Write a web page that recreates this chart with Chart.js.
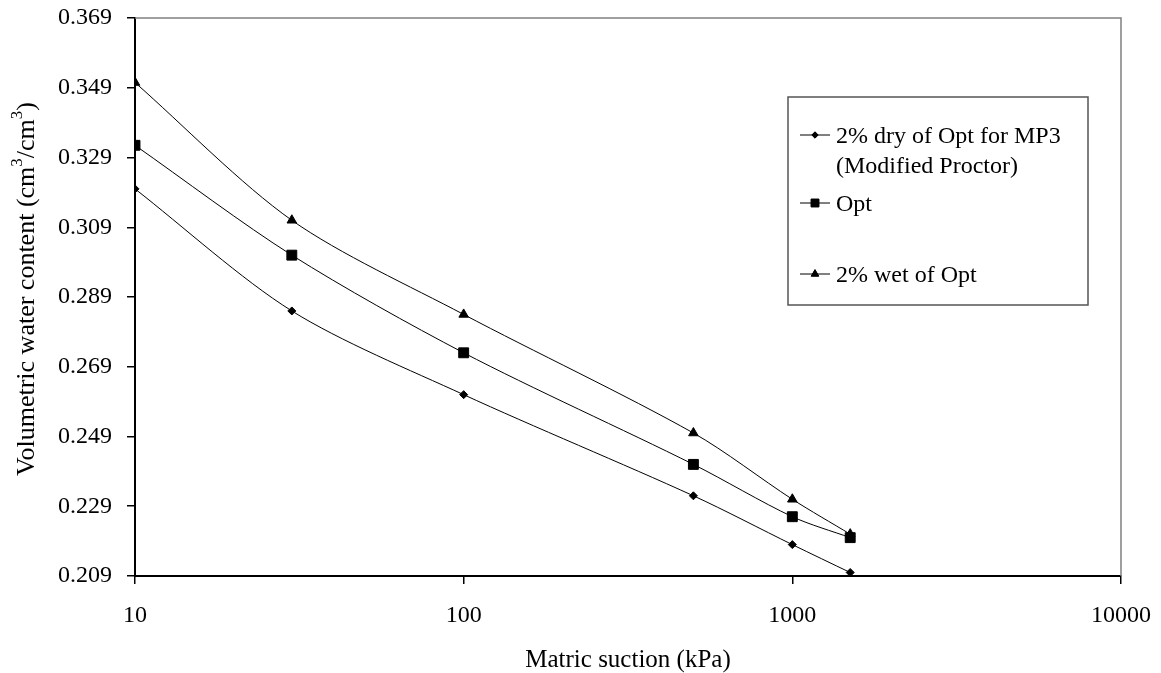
<!DOCTYPE html>
<html>
<head>
<meta charset="utf-8">
<script src="https://cdn.jsdelivr.net/npm/chart.js@4"></script>
<style>
  html, body { margin: 0; padding: 0; background: #fff; }
  #wrap { width: 1161px; height: 673px; }
</style>
</head>
<body>
<div id="wrap"><canvas id="myChart" width="1161" height="673"></canvas></div>
<script>
// chart values
const suction = [10, 30, 100, 500, 1000, 1500];
const dryOpt = [0.320, 0.285, 0.261, 0.232, 0.218, 0.210];
const opt = [0.3325, 0.301, 0.273, 0.241, 0.226, 0.220];
const wetOpt = [0.3505, 0.311, 0.284, 0.250, 0.231, 0.221];
const xTicks = [10, 100, 1000, 10000];
const yTicks = [0.209, 0.229, 0.249, 0.269, 0.289, 0.309, 0.329, 0.349, 0.369];

const serif = "'Liberation Serif', 'Times New Roman', serif";

// pair suction values with a series
toPoints = (vals) => suction.map((s, i) => ({ x: s, y: vals[i] }));

const series = [
    { label: ['2% dry of Opt for MP3', '(Modified Proctor)'], data: dryOpt, style: 'rectRot', radius: 4 },
    { label: ['Opt'], data: opt, style: 'rect', radius: 7 },
    { label: ['2% wet of Opt'], data: wetOpt, style: 'triangle', radius: 5.5 }
];

// plot frame: gray top/right, black left/bottom
const framePlugin = {
    id: 'frame',
    beforeDatasetsDraw(chart) {
        const { ctx, chartArea: a } = chart;
        ctx.save();
        ctx.strokeStyle = '#808080';
        ctx.lineWidth = 1.5;
        ctx.beginPath();
        ctx.moveTo(a.left, a.top);
        ctx.lineTo(a.right, a.top);
        ctx.lineTo(a.right, a.bottom);
        ctx.stroke();
        ctx.restore();
    }
};

// y axis title with real superscripts
const yTitlePlugin = {
    id: 'yTitle',
    afterDraw(chart) {
        const ctx = chart.ctx;
        const big = '26px ' + serif, small = '17px ' + serif;
        const parts = [
            ['Volumetric water content (cm', big, 0],
            ['3', small, -9],
            ['/cm', big, 0],
            ['3', small, -9],
            [')', big, 0]
        ];
        let total = 0;
        parts.forEach(p => { ctx.font = p[1]; total += ctx.measureText(p[0]).width; });
        ctx.save();
        ctx.translate(27, 289);
        ctx.rotate(-Math.PI / 2);
        ctx.fillStyle = '#000';
        ctx.textBaseline = 'middle';
        let x = -total / 2;
        parts.forEach(p => {
            ctx.font = p[1];
            ctx.fillText(p[0], x, p[2]);
            x += ctx.measureText(p[0]).width;
        });
        ctx.restore();
    }
};

// boxed legend on the right
const legendPlugin = {
    id: 'boxLegend',
    afterDraw(chart) {
        const ctx = chart.ctx;
        const box = { x: 788, y: 97, w: 300, h: 208 };
        const rows = [135, 203, 274];
        ctx.save();
        ctx.strokeStyle = '#555';
        ctx.lineWidth = 1.5;
        ctx.strokeRect(box.x, box.y, box.w, box.h);
        ctx.font = '24px ' + serif;
        ctx.fillStyle = '#000';
        ctx.textBaseline = 'middle';
        series.forEach((s, i) => {
            const y = rows[i];
            ctx.strokeStyle = '#000';
            ctx.lineWidth = 1;
            ctx.beginPath();
            ctx.moveTo(800, y);
            ctx.lineTo(830, y);
            ctx.stroke();
            Chart.helpers.drawPoint(ctx, { pointStyle: s.style, radius: s.radius * 0.8, borderWidth: 1 }, 815, y);
            ctx.fill();
            s.label.forEach((t, j) => ctx.fillText(t, 836, y + 2 + j * 30));
        });
        ctx.restore();
    }
};

new Chart(document.getElementById('myChart'), {
    type: 'line',
    data: {
        datasets: series.map(s => ({
            label: s.label.join(' '),
            data: toPoints(s.data),
            borderColor: '#000',
            backgroundColor: '#000',
            borderWidth: 1,
            pointStyle: s.style,
            pointRadius: s.radius,
            pointBorderWidth: 1,
            tension: 0.3,
            fill: false
        }))
    },
    options: {
        responsive: false,
        animation: false,
        layout: { padding: { left: 0, right: 40, top: 18, bottom: 0 } },
        plugins: {
            legend: { display: false },
            tooltip: { enabled: false }
        },
        scales: {
            x: {
                type: 'logarithmic',
                min: 10,
                max: 10000,
                afterBuildTicks: (axis) => { axis.ticks = xTicks.map(v => ({ value: v })); },
                afterFit: (axis) => {
                    axis.height = 97;
                    axis.paddingLeft = 0;
                    axis.paddingRight = 0;
                },
                border: { display: true, color: '#000', width: 2 },
                grid: { display: true, drawOnChartArea: false, drawTicks: true, tickLength: 8, color: '#000', lineWidth: 1.5 },
                ticks: {
                    color: '#000',
                    font: { family: serif, size: 24 },
                    padding: 17,
                    maxRotation: 0,
                    callback: (v) => String(v)
                },
                title: {
                    display: true,
                    text: 'Matric suction (kPa)',
                    color: '#000',
                    font: { family: serif, size: 25, lineHeight: 1 },
                    padding: { top: 0, bottom: 0 }
                }
            },
            y: {
                min: 0.209,
                max: 0.369,
                afterBuildTicks: (axis) => { axis.ticks = yTicks.map(v => ({ value: v })); },
                afterFit: (axis) => {
                    axis.width = 135;
                    axis.paddingTop = 0;
                    axis.paddingBottom = 0;
                },
                border: { display: true, color: '#000', width: 2 },
                grid: { display: true, drawOnChartArea: false, drawTicks: true, tickLength: 8, color: '#000', lineWidth: 1.5 },
                ticks: {
                    color: '#000',
                    font: { family: serif, size: 24 },
                    padding: 15,
                    callback: (v) => v.toFixed(3)
                }
            }
        }
    },
    plugins: [framePlugin, yTitlePlugin, legendPlugin]
});
</script>
</body>
</html>
